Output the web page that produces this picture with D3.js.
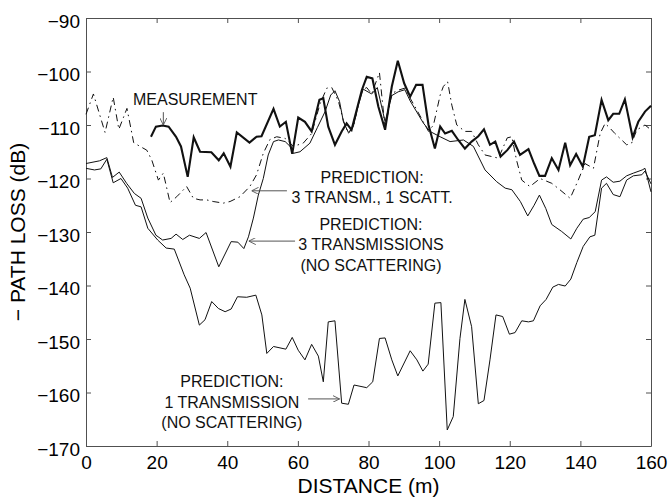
<!DOCTYPE html>
<html lang="en">
<head>
<meta charset="utf-8"/>
<title>Path loss vs distance</title>
<script src="https://cdnjs.cloudflare.com/ajax/libs/d3/7.8.5/d3.min.js"></script>
<style>
  body { margin: 0; background: #fff; }
  svg { display: block; font-family: "Liberation Sans", Arial, Helvetica, sans-serif; }
  .tick text { font-size: 19px; fill: #000; }
  .tick line, .domain { stroke: #505050; }
  .note { font-size: 16px; fill: #111; }
</style>
</head>
<body>
<div id="chart"></div>
<script>
// distance ticks and loss ticks
var xTicks = [0, 20, 40, 60, 80, 100, 120, 140, 160];
var yTicks = [-170, -160, -150, -140, -130, -120, -110, -100, -90];

// measurement (thick line)
var measX = [18.4,19.8,21.7,23.4,25.5,26.9,28.8,30.5,32.3,35.5,37.6,39.0,40.9,42.7,46.3,48.3,49.7,53.1,54.9,56.6,58.4,60.1,62.0,63.9,66.1,67.2,68.6,70.5,72.4,73.8,75.2,78.1,79.5,81.1,82.8,84.7,86.6,88.3,90.1,91.8,93.5,95.3,97.0,98.8,100.3,101.7,103.6,105.4,107.3,109.2,111.1,112.7,114.4,115.9,117.4,119.3,121.2,122.9,125.3,126.9,128.4,130.0,131.9,133.8,135.7,137.1,138.8,140.7,142.5,144.1,146.0,147.9,149.3,151.0,152.6,154.8,156.4,158.3,160.0];
var measY = [-112.2,-110.3,-110.1,-110.3,-112.2,-114.0,-119.7,-112.3,-115.0,-115.1,-116.6,-115.3,-117.8,-111.4,-113.3,-112.2,-112.1,-107.0,-110.3,-109.4,-115.4,-108.6,-109.4,-111.2,-105.3,-105.0,-110.3,-113.7,-111.2,-109.7,-110.9,-103.5,-101.0,-101.3,-106.6,-110.9,-102.8,-98.0,-102.2,-104.7,-102.5,-102.5,-110.0,-114.4,-110.3,-111.6,-111.1,-112.8,-114.4,-113.1,-112.1,-110.8,-113.7,-113.1,-115.9,-114.7,-113.1,-115.6,-114.5,-117.2,-119.5,-119.5,-116.2,-118.4,-113.3,-117.5,-115.4,-117.8,-112.2,-111.9,-105.3,-109.1,-107.9,-107.9,-105.2,-112.3,-109.4,-107.5,-106.4];

// prediction: 3 transmissions, no scattering
var trans3X = [0,3.8,5.9,7.5,9.4,11.5,13.7,15.6,17.5,19.8,21.7,24.1,25.5,27.4,29.3,32.1,34.0,37.6,41.1,43.0,44.7,46.0,47.4,48.8,50.2,51.6,53.1,54.5,56.4,57.8,58.7,60.6,63.4,65.5,67.7,69.3,70.5,71.8,72.9,74.3,75.7,77.1,78.5,80.9,82.5,84.7,86.6,88.4,90.3,91.8,93.7,95.5,97.4,100.3,103.1,106.9,109.7,113.0,116.3,118.7,120.6,123.0,125.1,126.9,128.4,130.2,131.9,134.7,137.3,139.0,140.8,142.5,144.2,146.0,147.4,149.3,151.2,153.1,155.0,157.5,158.3,160.0];
var trans3Y = [-117.2,-116.7,-116.1,-119.8,-118.8,-120.9,-122.8,-123.7,-127.4,-130.6,-131.5,-131.2,-130.4,-131.4,-130.6,-131.2,-130.1,-136.5,-131.8,-131.9,-133.1,-130.9,-127.4,-123.1,-120.0,-115.6,-113.1,-112.8,-113.1,-114.0,-115.3,-115.0,-113.4,-110.5,-107.5,-104.4,-103.6,-105.6,-109.4,-111.4,-110.3,-106.3,-103.3,-104.2,-103.0,-109.4,-104.5,-103.8,-103.4,-105.5,-107.6,-109.6,-111.2,-112.2,-113.1,-112.8,-114.0,-118.4,-120.6,-121.8,-122.1,-124.3,-127.0,-125.0,-123.1,-125.6,-128.6,-129.9,-131.3,-129.3,-127.6,-127.3,-126.2,-120.3,-119.7,-120.7,-120.5,-119.5,-119.0,-118.4,-118.1,-122.5];

// prediction: 3 transmissions, 1 scattering (dash-dot)
var scattX = [0,2.1,5.4,7.7,9.3,11.6,13.5,15.3,17.2,18.6,20.5,21.9,23.8,25.7,28.5,30.4,32.3,34.2,36.0,38.9,40.8,43.6,46.4,48.3,50.2,52.1,54.0,56.4,58.7,61.5,63.9,66.3,68.2,69.6,71.5,72.9,74.3,75.7,78.1,79.5,80.9,83.1,84.7,86.6,88.4,90.3,91.8,93.7,95.5,97.0,98.4,100.3,101.2,102.4,103.6,105.0,107.3,109.2,111.1,113.0,114.9,116.8,119.3,120.6,121.9,123.4,125.7,128.6,131.9,134.2,137.1,139.4,141.3,143.7,145.6,147.0,148.4,149.8,151.7,153.1,154.5,156.0,158.3,160.0];
var scattY = [-108.0,-104.2,-111.4,-104.8,-110.8,-106.9,-113.3,-114.0,-114.7,-116.5,-120.3,-119.0,-124.5,-123.4,-121.5,-123.7,-124.0,-124.0,-124.3,-124.6,-124.3,-123.4,-121.5,-119.3,-115.3,-112.7,-112.2,-112.5,-114.0,-113.4,-111.6,-106.0,-103.1,-103.0,-105.6,-109.2,-111.6,-110.3,-103.5,-103.0,-104.2,-100.2,-110.6,-104.1,-103.5,-103.1,-105.0,-107.2,-109.4,-111.2,-110.0,-104.4,-102.8,-101.9,-106.3,-110.0,-111.2,-111.2,-113.7,-115.6,-115.9,-116.2,-112.4,-112.2,-116.5,-120.3,-121.5,-120.0,-120.9,-122.1,-123.7,-120.3,-117.2,-118.1,-111.6,-109.7,-110.6,-111.6,-112.8,-113.7,-113.4,-110.9,-110.0,-110.9];

// prediction: 1 transmission, no scattering
var trans1X = [0,2.4,4.2,5.9,7.7,9.9,11.8,14.0,15.6,17.5,20.3,22.7,25.0,27.8,29.5,32.1,33.7,35.6,37.5,39.4,41.1,42.9,45.5,48.1,49.8,51.2,53.1,56.6,58.4,60.1,62.0,63.9,65.8,67.2,68.6,70.5,72.4,74.3,75.9,79.5,81.2,83.1,84.7,86.6,88.3,91.8,93.7,95.4,96.9,98.8,100.5,102.3,104.0,105.9,107.3,109.2,111.1,112.7,114.4,116.1,118.0,119.9,121.5,123.4,125.3,126.7,128.6,130.3,132.2,133.8,135.7,137.3,139.0,140.8,142.7,144.1,146.0,147.4,149.3,151.2,153.1,155.0,157.4,158.3,160.0];
var trans1Y = [-118.1,-118.4,-118.2,-116.4,-120.8,-120.0,-121.8,-125.0,-125.3,-129.3,-131.5,-133.0,-133.2,-138.0,-140.5,-147.4,-146.4,-143.0,-144.3,-144.9,-144.4,-142.1,-142.2,-141.8,-145.5,-152.7,-151.4,-151.9,-149.7,-152.1,-153.9,-151.0,-153.2,-158.0,-146.8,-146.6,-162.0,-162.2,-158.6,-159.1,-158.0,-149.9,-149.8,-153.9,-156.9,-152.2,-153.9,-156.0,-154.7,-143.3,-143.2,-167.0,-164.5,-149.9,-142.6,-147.7,-162.1,-161.5,-153.9,-145.5,-145.8,-149.1,-148.8,-146.6,-146.8,-146.6,-143.8,-142.6,-140.3,-139.8,-140.1,-138.8,-135.7,-132.7,-130.9,-130.6,-121.8,-120.9,-123.0,-123.4,-120.3,-119.5,-119.3,-118.6,-121.0];

// annotation text, in data units
var noteText = [
  {x: 13.3, y: -106.3, anchor: "start", lines: ["MEASUREMENT"]},
  {x: 81.0, y: -120.8, anchor: "middle", lines: ["PREDICTION:", "3 TRANSM., 1 SCATT."]},
  {x: 80.7, y: -129.6, anchor: "middle", lines: ["PREDICTION:", "3 TRANSMISSIONS", "(NO SCATTERING)"]},
  {x: 41.3, y: -159.0, anchor: "middle", lines: ["PREDICTION:", "1 TRANSMISSION", "(NO SCATTERING)"]}
];
// arrows [x1, y1, x2, y2], head at the second point
var noteArrows = [
  [21.9, -107.6, 21.9, -110.0],
  [56.9, -122.3, 46.9, -122.3],
  [59.2, -131.7, 46.1, -131.7],
  [62.9, -161.2, 71.8, -161.2]
];

var width = 670, height = 499;
var margin = {top: 18, right: 19, bottom: 53, left: 86};

var svg = d3.select("#chart").append("svg")
  .attr("width", width)
  .attr("height", height);

var x = d3.scaleLinear().domain([0, 160]).range([margin.left, width - margin.right]);
var y = d3.scaleLinear().domain([-170, -90]).range([height - margin.bottom, margin.top]);

// axes, ticks pointing inward on all four sides
svg.append("g")
  .attr("transform", "translate(0," + y(-170) + ")")
  .call(d3.axisBottom(x).tickValues(xTicks).tickSizeInner(-5).tickSizeOuter(0).tickPadding(10).tickFormat(d3.format("d")));
svg.append("g")
  .attr("transform", "translate(0," + y(-90) + ")")
  .call(d3.axisTop(x).tickValues(xTicks).tickSizeInner(-5).tickSizeOuter(0).tickFormat(""));
var yAxis = svg.append("g")
  .attr("transform", "translate(" + x(0) + ",0)")
  .call(d3.axisLeft(y).tickValues(yTicks).tickSizeInner(-5).tickSizeOuter(0).tickPadding(6).tickFormat(d3.format("d")));
yAxis.selectAll(".tick text").attr("dy", "0.48em");
svg.append("g")
  .attr("transform", "translate(" + x(160) + ",0)")
  .call(d3.axisRight(y).tickValues(yTicks).tickSizeInner(-5).tickSizeOuter(0).tickFormat(""));

svg.selectAll(".domain").attr("stroke", "#505050");

// axis titles
svg.append("text")
  .attr("x", (x(0) + x(160)) / 2)
  .attr("y", 493)
  .attr("text-anchor", "middle")
  .style("font-size", "21px")
  .text("DISTANCE (m)");
svg.append("text")
  .attr("transform", "translate(25," + (y(-130)) + ") rotate(-90)")
  .attr("text-anchor", "middle")
  .style("font-size", "21px")
  .text("\u2212 PATH LOSS (dB)");

// curves
function series(xs, ys) {
  return xs.map(function(d, i) { return [d, ys[i]]; });
}
var line = d3.line()
  .x(function(d) { return x(d[0]); })
  .y(function(d) { return y(d[1]); });

var curves = [
  {data: series(trans1X, trans1Y), w: 1, dash: null},
  {data: series(trans3X, trans3Y), w: 1, dash: null},
  {data: series(scattX, scattY), w: 1, dash: "7,4,1.5,4"},
  {data: series(measX, measY), w: 2.1, dash: null}
];

svg.append("g").selectAll("path")
  .data(curves)
  .enter().append("path")
  .attr("d", function(d) { return line(d.data); })
  .attr("fill", "none")
  .attr("stroke", "#111")
  .attr("stroke-width", function(d) { return d.w; })
  .attr("stroke-linejoin", "miter")
  .attr("stroke-dasharray", function(d) { return d.dash; });

// annotations
svg.append("defs").append("marker")
  .attr("id", "head")
  .attr("viewBox", "0 0 10 10")
  .attr("refX", 10).attr("refY", 5)
  .attr("markerWidth", 7).attr("markerHeight", 7)
  .attr("markerUnits", "userSpaceOnUse")
  .attr("orient", "auto")
  .append("path")
  .attr("d", "M0,0 L10,5 L0,10")
  .attr("fill", "none")
  .attr("stroke", "#555")
  .attr("stroke-width", 1.3);

svg.append("g").selectAll("line")
  .data(noteArrows)
  .enter().append("line")
  .attr("x1", function(d) { return x(d[0]); })
  .attr("y1", function(d) { return y(d[1]); })
  .attr("x2", function(d) { return x(d[2]); })
  .attr("y2", function(d) { return y(d[3]); })
  .attr("stroke", "#555")
  .attr("stroke-width", 1)
  .attr("marker-end", "url(#head)");

var notes = svg.append("g").selectAll("text")
  .data(noteText)
  .enter().append("text")
  .attr("class", "note")
  .attr("text-anchor", function(d) { return d.anchor; })
  .attr("transform", function(d) { return "translate(" + x(d.x) + "," + y(d.y) + ")"; });

notes.selectAll("tspan")
  .data(function(d) { return d.lines; })
  .enter().append("tspan")
  .attr("x", 0)
  .attr("y", function(d, i) { return i * 20.5; })
  .text(function(d) { return d; });
</script>
</body>
</html>
